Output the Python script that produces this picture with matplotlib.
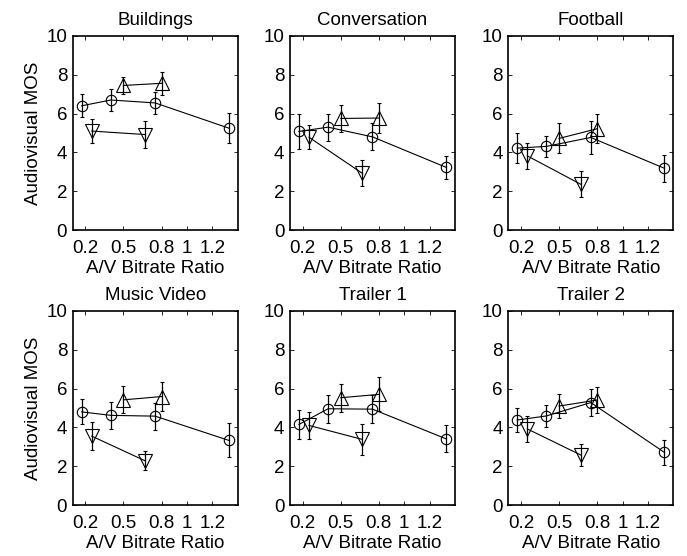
import matplotlib
matplotlib.use('Agg')
import matplotlib.pyplot as plt

plt.rcParams['font.family'] = ['Liberation Sans', 'DejaVu Sans']

# x positions (A/V bitrate ratio) for the three curves
x_circ = [0.17, 0.40, 0.75, 1.33]
x_up = [0.50, 0.80]
x_down = [0.25, 0.67]

titles = ['Buildings', 'Conversation', 'Football', 'Music Video', 'Trailer 1', 'Trailer 2']

# mean MOS values and half-width of error bars, per clip
circ_mos = [
    [6.40, 6.70, 6.55, 5.25],
    [5.08, 5.30, 4.80, 3.23],
    [4.22, 4.31, 4.77, 3.18],
    [4.80, 4.62, 4.58, 3.33],
    [4.15, 4.96, 4.94, 3.41],
    [4.38, 4.59, 5.28, 2.71],
]
circ_err = [
    [0.60, 0.55, 0.56, 0.77],
    [0.89, 0.70, 0.69, 0.60],
    [0.78, 0.53, 0.84, 0.70],
    [0.65, 0.69, 0.69, 0.88],
    [0.74, 0.72, 0.72, 0.69],
    [0.63, 0.56, 0.69, 0.63],
]
up_mos = [
    [7.45, 7.56],
    [5.75, 5.77],
    [4.72, 5.22],
    [5.42, 5.59],
    [5.53, 5.70],
    [5.10, 5.41],
]
up_err = [
    [0.45, 0.58],
    [0.71, 0.79],
    [0.77, 0.76],
    [0.69, 0.75],
    [0.72, 0.88],
    [0.60, 0.69],
]
down_mos = [
    [5.10, 4.92],
    [4.78, 2.92],
    [3.82, 2.36],
    [3.55, 2.28],
    [4.10, 3.38],
    [3.92, 2.58],
]
down_err = [
    [0.60, 0.70],
    [0.62, 0.67],
    [0.68, 0.68],
    [0.73, 0.48],
    [0.69, 0.80],
    [0.65, 0.59],
]

xticks = [0.2, 0.5, 0.8, 1.0, 1.2]
xticklabels = ['0.2', '0.5', '0.8', '1', '1.2']

fs = 13.5
fig = plt.figure(figsize=(6.87, 5.56), dpi=100)
lefts = [0.1058, 0.4221, 0.7399]
bottoms = [0.5863, 0.0917]
w, h = 0.2402, 0.349

for i, title in enumerate(titles):
    r, c = divmod(i, 3)
    ax = fig.add_axes([lefts[c], bottoms[r], w, h])
    common = dict(color='black', linewidth=0.8, elinewidth=0.9, capsize=1.5,
                  markerfacecolor='none', markeredgecolor='black',
                  markeredgewidth=0.8)
    ax.errorbar(x_circ, circ_mos[i], yerr=circ_err[i], marker='o', markersize=7.5, **common)
    ax.errorbar(x_up, up_mos[i], yerr=up_err[i], marker='^', markersize=9.5, **common)
    ax.errorbar(x_down, down_mos[i], yerr=down_err[i], marker='v', markersize=9.5, **common)

    ax.set_xlim(0.1, 1.4)
    ax.set_ylim(0, 10)
    ax.set_xticks(xticks)
    ax.set_xticklabels(xticklabels)
    ax.set_yticks(range(0, 11, 2))
    ax.tick_params(direction='in', top=True, right=True, length=3, width=0.6,
                   labelsize=fs)
    ax.tick_params(axis='x', pad=7)
    ax.tick_params(axis='y', pad=4)
    for sp in ax.spines.values():
        sp.set_linewidth(1.2)
    ax.set_title(title, fontsize=fs, pad=8)
    ax.set_xlabel('A/V Bitrate Ratio', fontsize=fs, labelpad=2)
    if c == 0:
        ax.set_ylabel('Audiovisual MOS', fontsize=fs, labelpad=3)

fig.savefig('out.png', dpi=100)
